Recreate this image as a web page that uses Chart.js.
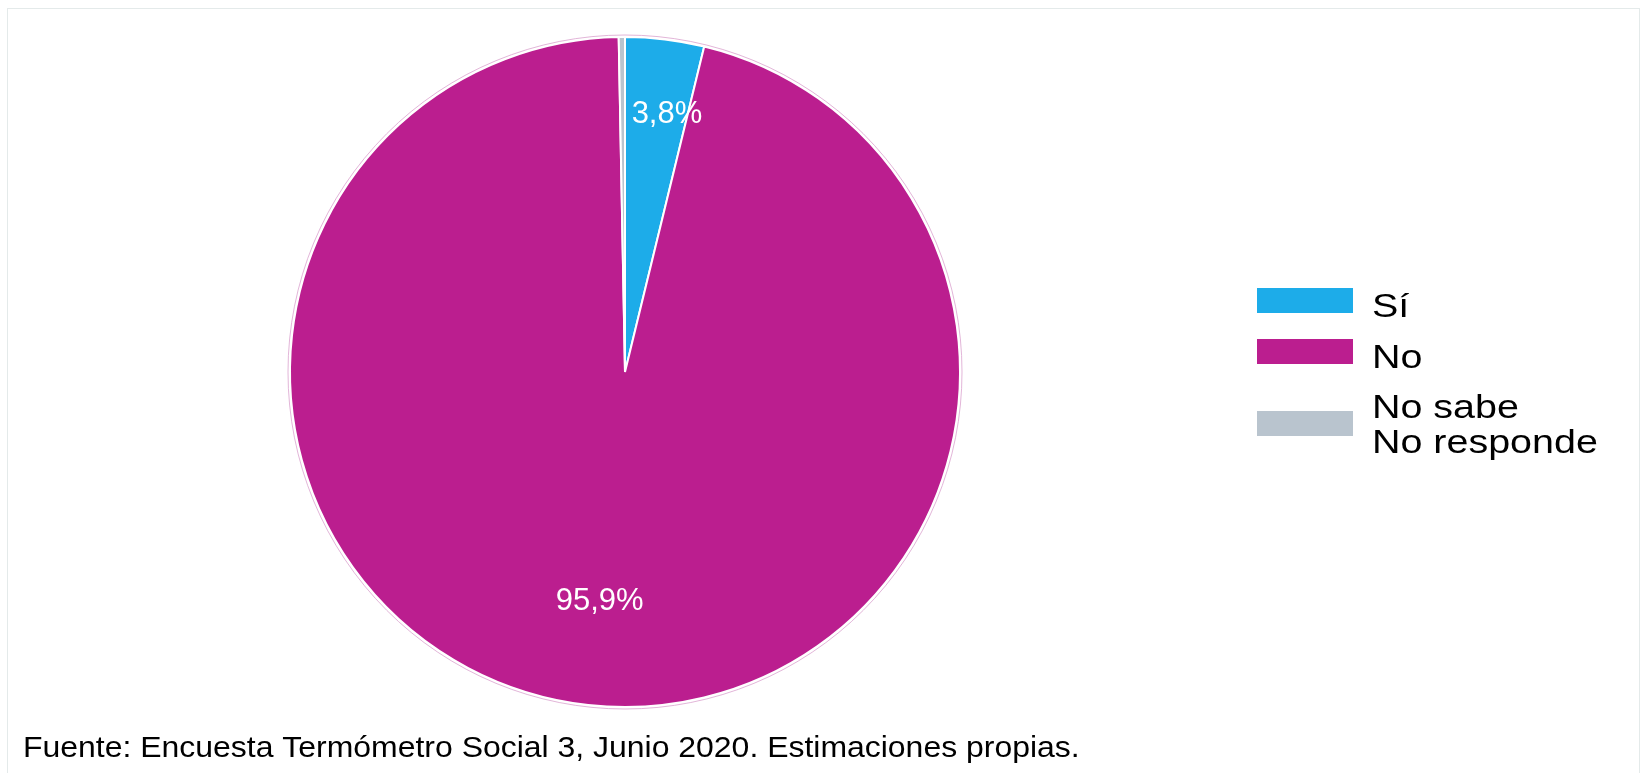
<!DOCTYPE html>
<html>
<head>
<meta charset="utf-8">
<script src="https://cdn.jsdelivr.net/npm/chart.js@4/dist/chart.umd.min.js"></script>
<style>
  html, body { margin: 0; padding: 0; background: #fff; }
  canvas { display: block; }
</style>
</head>
<body>
<canvas id="myChart" width="1642" height="773"></canvas>
<script>
// Datos del gráfico
const categorias = ['Sí', 'No', 'No sabe\nNo responde'];
const porcentajes = [3.8, 95.9, 0.3];
const etiquetas = ['3,8%', '95,9%', ''];
const colores = ['#1DACE9', '#BB1E8F', '#B9C4CE'];
const fuente = 'Fuente: Encuesta Termómetro Social 3, Junio 2020. Estimaciones propias.';

// Posición radial de las etiquetas (fracción del radio) y giro extra en grados
const radioEtiqueta = [0.78, 0.69, 0];
const giroEtiqueta = [2.4, 0, 0];

const FAMILIA = '"Liberation Sans", Arial, sans-serif';

// Plugin para marco, etiquetas, leyenda y fuente
const plugin = {
    id: 'extras',
    afterDatasetsDraw(chart) {
        const ctx = chart.ctx;
        const meta = chart.getDatasetMeta(0);

        // etiquetas de datos
        ctx.save();
        ctx.fillStyle = '#fff';
        ctx.font = '31px ' + FAMILIA;
        ctx.textAlign = 'center';
        ctx.textBaseline = 'middle';
        meta.data.forEach((arc, i) => {
            if (!etiquetas[i]) return;
            const p = arc.getProps(['x', 'y', 'startAngle', 'endAngle', 'outerRadius']);
            const ang = (p.startAngle + p.endAngle) / 2 + giroEtiqueta[i] * Math.PI / 180;
            const r = p.outerRadius * radioEtiqueta[i];
            ctx.fillText(etiquetas[i], p.x + Math.cos(ang) * r, p.y + Math.sin(ang) * r);
        });
        ctx.restore();
    },
    afterDraw(chart) {
        const ctx = chart.ctx;
        const meta = chart.getDatasetMeta(0);

        // línea exterior fina del pastel
        const a0 = meta.data[0];
        ctx.save();
        ctx.strokeStyle = 'rgba(214,150,200,0.7)';
        ctx.lineWidth = 1;
        ctx.beginPath();
        ctx.arc(a0.x, a0.y, a0.outerRadius + 2, 0, Math.PI * 2);
        ctx.stroke();
        ctx.restore();

        // marco
        ctx.save();
        ctx.strokeStyle = '#E4EAEA';
        ctx.lineWidth = 1;
        ctx.strokeRect(7.5, 8.5, 1632, 800);
        ctx.restore();

        // leyenda
        const cajaY = [288, 339, 411];
        const baseY = [317, 368, 418];
        ctx.save();
        categorias.forEach((cat, i) => {
            ctx.fillStyle = colores[i];
            ctx.fillRect(1257, cajaY[i], 96, 25);

            const lineas = cat.split('\n');
            ctx.fillStyle = '#000';
            ctx.font = '34px ' + FAMILIA;
            ctx.textBaseline = 'alphabetic';
            lineas.forEach((linea, j) => {
                ctx.save();
                ctx.translate(1372, baseY[i] + j * 35);
                ctx.scale(1.16, 1);
                ctx.fillText(linea, 0, 0);
                ctx.restore();
            });
        });

        // fuente
        ctx.fillStyle = '#000';
        ctx.font = '30px ' + FAMILIA;
        ctx.textBaseline = 'alphabetic';
        ctx.save();
        ctx.translate(23, 757);
        ctx.scale(1.065, 1);
        ctx.fillText(fuente, 0, 0);
        ctx.restore();
        ctx.restore();
    }
};

let ctx = document.getElementById('myChart').getContext('2d');
let graficoChart = new Chart(ctx, {
    type: 'pie',
    data: {
        labels: categorias,
        datasets: [{
            data: porcentajes,
            backgroundColor: colores,
            borderColor: '#fff',
            borderWidth: 2
        }]
    },
    options: {
        responsive: false,
        animation: false,
        layout: {
            padding: { left: 289, right: 681, top: 36, bottom: 65 }
        },
        plugins: {
            legend: { display: false },
            tooltip: { enabled: false }
        }
    },
    plugins: [plugin]
});
</script>
</body>
</html>
